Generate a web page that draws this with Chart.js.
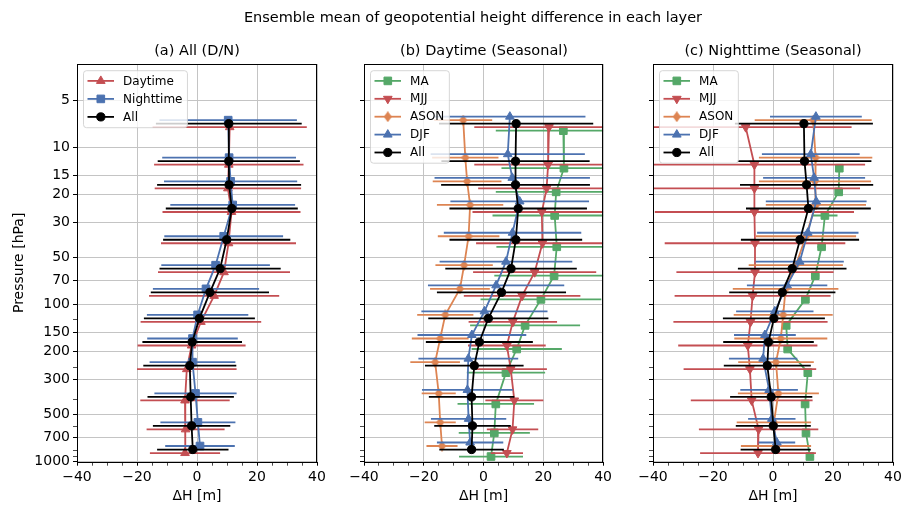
<!DOCTYPE html>
<html>
<head>
<meta charset="utf-8">
<script src="https://cdn.jsdelivr.net/npm/chart.js@4.4.0/dist/chart.umd.min.js"></script>
<style>
body { margin: 0; background: #fff; width: 906px; height: 509px; position: relative; overflow: hidden; font-family: "DejaVu Sans", sans-serif; }
.ttl { position: absolute; font-size: 14.5px; line-height: 17px; transform: translateX(-50%); white-space: nowrap; color: #000; }
.box { position: absolute; top: 0; height: 509px; }
</style>
</head>
<body>
<div class="box" style="left:0;width:330px"><canvas id="ca"></canvas></div>
<div class="box" style="left:330px;width:285px"><canvas id="cb"></canvas></div>
<div class="box" style="left:615px;width:291px"><canvas id="cc"></canvas></div>
<div class="ttl" style="left:473px;top:9px">Ensemble mean of geopotential height difference in each layer</div>
<div class="ttl" style="left:197px;top:42px">(a) All (D/N)</div>
<div class="ttl" style="left:484px;top:42px">(b) Daytime (Seasonal)</div>
<div class="ttl" style="left:773px;top:42px">(c) Nighttime (Seasonal)</div>
<script>
// layer mid pressures (hPa)
const levels = [7.07, 12.25, 17.32, 24.49, 38.73, 59.16, 83.67, 122.5, 173.2, 244.9, 387.3, 591.6, 836.7];

// (a) all, day / night
const aDay      = [10.9, 10.6, 10.3, 11.5, 10.5, 9.0, 5.7, 1.3, -1.8, -3.4, -4.0, -3.8, -4.0];
const aDayErr   = [25.7, 24.9, 24.4, 23.0, 22.5, 22.0, 21.7, 20.1, 18.0, 16.6, 14.9, 13.0, 11.7];
const aNight    = [10.4, 10.7, 11.2, 11.9, 8.9, 6.2, 3.0, 0.2, -1.5, -1.5, -0.5, 0.3, 1.0];
const aNightErr = [22.9, 22.3, 22.2, 20.8, 19.8, 18.1, 17.7, 16.9, 15.1, 14.3, 13.7, 12.5, 11.6];
const aAll      = [10.6, 10.6, 10.7, 11.6, 9.9, 7.7, 4.3, 0.8, -1.6, -2.4, -2.1, -1.8, -1.4];
const aAllErr   = [24.3, 23.7, 24.0, 22.0, 21.2, 20.2, 19.7, 18.5, 16.6, 15.5, 14.4, 12.9, 11.9];

// (b) daytime by season
const bMA      = [26.7, 26.9, 24.3, 23.8, 24.5, 23.6, 19.2, 13.9, 11.1, 7.5, 4.1, 3.6, 2.5];
const bMAErr   = [22.6, 20.9, 20.2, 20.8, 20.2, 20.0, 20.2, 18.4, 15.1, 13.1, 12.8, 11.9, 10.7];
const bMJJ     = [21.9, 21.6, 21.1, 19.5, 19.7, 17.1, 12.9, 9.8, 7.8, 9.1, 10.3, 9.7, 7.8];
const bMJJErr  = [25.0, 24.7, 22.9, 23.2, 22.2, 20.6, 19.5, 14.8, 13.0, 12.1, 9.7, 8.6, 5.4];
const bASON    = [-6.8, -6.1, -5.5, -4.5, -5.0, -6.5, -7.9, -12.8, -14.5, -16.2, -15.0, -14.5, -13.9];
const bASONErr = [9.7, 11.1, 11.5, 11.1, 10.3, 9.6, 10.0, 9.4, 9.5, 8.3, 5.7, 5.2, 5.2];
const bDJF     = [8.8, 8.1, 9.6, 12.1, 9.7, 7.5, 4.2, 0.3, -3.9, -5.1, -5.4, -5.0, -4.5];
const bDJFErr  = [25.3, 25.8, 26.0, 23.2, 23.0, 22.2, 22.8, 21.1, 18.2, 16.7, 15.2, 12.6, 11.1];
const bAll     = [10.9, 10.7, 10.7, 11.6, 10.8, 9.2, 6.0, 1.6, -1.4, -3.1, -4.0, -3.7, -4.0];
const bAllErr  = [25.8, 24.8, 24.9, 23.0, 22.2, 22.0, 21.6, 20.1, 17.9, 16.5, 14.3, 12.8, 10.8];

// (c) nighttime by season
const cMA      = [null, 22.1, 21.9, 17.3, 16.2, 14.1, 10.8, 4.4, 4.9, 11.6, 10.7, 11.0, 12.3];
const cMAErr   = [null, 1.0, 1.0, 4.2, 1.4, 1.3, 1.3, 1.0, 1.3, 1.2, 1.2, 1.2, 1.3];
const cMJJ     = [-9.1, -6.2, -6.2, -6.2, -6.0, -6.0, -6.8, -7.5, -8.4, -7.7, -7.1, -4.8, -5.0];
const cMJJErr  = [35.3, 36.9, 35.2, 33.2, 30.1, 26.2, 26.0, 25.7, 23.2, 22.1, 20.3, 19.9, 19.3];
const cASON    = [13.4, 14.2, 14.0, 14.3, 11.0, 7.6, 4.2, 3.4, 2.6, 1.0, 1.8, 0.3, 1.0];
const cASONErr = [19.5, 18.9, 18.7, 16.7, 16.7, 15.7, 17.6, 16.5, 15.5, 12.6, 13.5, 12.4, 11.7];
const cDJF     = [14.3, 12.6, 13.7, 14.4, 11.6, 8.9, 4.7, 0.6, -2.7, -3.3, -1.3, -0.4, 1.3];
const cDJFErr  = [15.3, 16.3, 17.0, 16.8, 16.9, 14.7, 13.4, 12.9, 10.3, 11.4, 9.6, 7.9, 6.1];
const cAll     = [10.3, 10.5, 11.2, 11.8, 9.0, 6.4, 3.1, 0.3, -1.5, -1.9, -0.6, 0.1, 0.9];
const cAllErr  = [23.0, 22.3, 22.2, 20.8, 19.7, 18.1, 17.7, 17.0, 15.1, 14.5, 13.7, 12.5, 11.7];

// axis ticks
const yMajor = [5, 10, 15, 20, 30, 50, 70, 100, 150, 200, 300, 500, 700, 1000];
const yMinor = [125, 250, 400, 600, 850, 925];
const xTicks = [-40, -35, -30, -25, -20, -15, -10, -5, 0, 5, 10, 15, 20, 25, 30, 35, 40];
const xMajor = [-40, -20, 0, 20, 40];

const FONT = '"DejaVu Sans", sans-serif';
const DODGE = 0.0223; // vertical offset between series (log10 units)
const LW = 1.8;
const C = { blue: '#4C72B0', orange: '#DD8452', green: '#55A868', red: '#C44E52', black: '#000000' };

// thin diamond marker
const thinDiamond = document.createElement('canvas');
thinDiamond.width = 8; thinDiamond.height = 11;
(function () {
    const g = thinDiamond.getContext('2d');
    g.fillStyle = C.orange;
    g.beginPath();
    g.moveTo(4, 0); g.lineTo(8, 5.5); g.lineTo(4, 11); g.lineTo(0, 5.5);
    g.closePath(); g.fill();
})();

const MARK = {
    circle: { pointStyle: 'circle', pointRadius: 4.1, pointRotation: 0 },
    square: { pointStyle: 'rect', pointRadius: 5.4, pointRotation: 0 },
    up:     { pointStyle: 'triangle', pointRadius: 5, pointRotation: 0 },
    down:   { pointStyle: 'triangle', pointRadius: 5, pointRotation: 180 },
    diam:   { pointStyle: thinDiamond, pointRadius: 4, pointRotation: 0 }
};

function serie(label, color, mark, mean, err, shift) {
    const pts = [];
    levels.forEach((p, i) => {
        if (mean[i] === null) return;
        pts.push({ x: mean[i], y: p * Math.pow(10, shift * DODGE), e: err[i] });
    });
    return Object.assign({
        label: label,
        data: pts,
        showLine: true,
        borderColor: color,
        backgroundColor: color,
        pointBackgroundColor: color,
        pointBorderColor: color,
        pointBorderWidth: 1,
        borderWidth: LW,
        tension: 0,
        mark: mark
    }, MARK[mark]);
}

// horizontal error bars, drawn just before each dataset
const errorBars = {
    id: 'errorBars',
    beforeDatasetDraw(chart, args) {
        const ds = chart.data.datasets[args.index];
        const xs = chart.scales.x, ys = chart.scales.y, a = chart.chartArea;
        const ctx = chart.ctx;
        ctx.save();
        ctx.beginPath();
        ctx.rect(a.left, a.top, a.right - a.left, a.bottom - a.top);
        ctx.clip();
        ctx.strokeStyle = ds.borderColor;
        ctx.lineWidth = LW;
        ds.data.forEach(d => {
            const y = ys.getPixelForValue(d.y);
            ctx.beginPath();
            ctx.moveTo(xs.getPixelForValue(d.x - d.e), y);
            ctx.lineTo(xs.getPixelForValue(d.x + d.e), y);
            ctx.stroke();
        });
        ctx.restore();
    }
};

const frame = {
    id: 'frame',
    afterDatasetsDraw(chart) {
        const a = chart.chartArea, ctx = chart.ctx;
        ctx.save();
        ctx.strokeStyle = '#000';
        ctx.lineWidth = 1;
        ctx.strokeRect(Math.round(a.left) + 0.5, Math.round(a.top) + 0.5,
            Math.round(a.right - a.left) - 1, Math.round(a.bottom - a.top));
        ctx.restore();
    }
};

function drawMarker(ctx, ds, x, y) {
    const r = ds.pointRadius;
    ctx.save();
    ctx.fillStyle = ds.pointBackgroundColor;
    ctx.strokeStyle = ds.pointBorderColor;
    ctx.lineWidth = 1;
    if (ds.mark === 'diam') {
        ctx.drawImage(thinDiamond, x - thinDiamond.width / 2, y - thinDiamond.height / 2);
        ctx.restore();
        return;
    }
    ctx.beginPath();
    if (ds.mark === 'circle') {
        ctx.arc(x, y, r, 0, Math.PI * 2);
    } else if (ds.mark === 'square') {
        const s = r * Math.SQRT1_2;
        ctx.rect(x - s, y - s, 2 * s, 2 * s);
    } else {
        let rad = ds.pointRotation * Math.PI / 180;
        for (let k = 0; k < 3; k++) {
            const px = x + Math.sin(rad) * r, py = y - Math.cos(rad) * r;
            if (k === 0) ctx.moveTo(px, py); else ctx.lineTo(px, py);
            rad += Math.PI * 2 / 3;
        }
    }
    ctx.closePath();
    ctx.fill();
    ctx.stroke();
    ctx.restore();
}

// legend box in the upper left corner of the axes
const boxLegend = {
    id: 'boxLegend',
    afterDraw(chart, args, opt) {
        const ctx = chart.ctx, a = chart.chartArea;
        const sets = chart.data.datasets;
        ctx.save();
        ctx.font = '12px ' + FONT;
        const tw = Math.max(...sets.map(d => ctx.measureText(d.label).width));
        const row = opt.row || 18;
        const x0 = a.left + 6.5, y0 = a.top + 6.7;
        const w = 39.6 + tw + 5, h = sets.length * row + 3;
        ctx.beginPath();
        ctx.roundRect(x0, y0, w, h, 3);
        ctx.fillStyle = 'rgba(255,255,255,0.8)';
        ctx.fill();
        ctx.strokeStyle = 'rgba(204,204,204,0.8)';
        ctx.lineWidth = 1;
        ctx.stroke();
        sets.forEach((ds, i) => {
            const y = y0 + 10.2 + i * row;
            ctx.strokeStyle = ds.borderColor;
            ctx.lineWidth = LW;
            ctx.beginPath();
            ctx.moveTo(x0 + 4, y);
            ctx.lineTo(x0 + 30.5, y);
            ctx.stroke();
            drawMarker(ctx, ds, x0 + 17.3, y);
            ctx.fillStyle = '#000';
            ctx.textBaseline = 'middle';
            ctx.textAlign = 'left';
            ctx.fillText(ds.label, x0 + 39.6, y + 0.5);
        });
        ctx.restore();
    }
};

function makeChart(id, sets, yw, padRight, showY, legendRow) {
    sets.forEach((d, i) => { d.order = sets.length - 1 - i; });
    return new Chart(document.getElementById(id), {
        type: 'scatter',
        data: { datasets: sets },
        plugins: [errorBars, frame, boxLegend],
        options: {
            responsive: true,
            maintainAspectRatio: false,
            animation: false,
            events: [],
            layout: { padding: { left: 0, right: padRight, top: 64, bottom: 0 } },
            plugins: {
                legend: { display: false },
                tooltip: { enabled: false },
                boxLegend: { row: legendRow }
            },
            scales: {
                x: {
                    type: 'linear',
                    min: -40, max: 40,
                    afterBuildTicks: s => { s.ticks = xTicks.map(v => ({ value: v })); },
                    afterFit: s => { s.height = 47.3; },
                    border: { display: false },
                    grid: {
                        color: c => (c.tick && xMajor.includes(c.tick.value)) ? '#c4c4c4' : 'rgba(0,0,0,0)',
                        lineWidth: 1,
                        tickColor: '#000',
                        tickLength: 4,
                        tickWidth: c => (c.tick && xMajor.includes(c.tick.value)) ? 1 : 0.7
                    },
                    ticks: {
                        autoSkip: false,
                        maxRotation: 0,
                        padding: 3,
                        color: '#000',
                        font: { family: FONT, size: 14 },
                        callback: v => xMajor.includes(v) ? (v < 0 ? '\u2212' + Math.abs(v) : String(v)) : ''
                    },
                    title: {
                        display: true, text: '\u0394H [m]', color: '#000',
                        font: { family: FONT, size: 14 },
                        padding: { top: 0, bottom: 4 }
                    }
                },
                y: {
                    type: 'logarithmic',
                    reverse: true,
                    min: 2.95, max: 1000,
                    afterBuildTicks: s => { s.ticks = yMajor.concat(yMinor).map(v => ({ value: v })); },
                    afterFit: s => { s.width = yw; },
                    border: { display: false },
                    grid: {
                        color: c => (c.tick && yMajor.includes(c.tick.value)) ? '#c4c4c4' : 'rgba(0,0,0,0)',
                        lineWidth: 1,
                        tickColor: '#000',
                        tickLength: 4,
                        tickWidth: c => (c.tick && yMajor.includes(c.tick.value)) ? 1 : 0.7
                    },
                    ticks: {
                        autoSkip: false,
                        padding: 3,
                        color: '#000',
                        font: { family: FONT, size: 14 },
                        callback: v => (showY && yMajor.includes(v)) ? String(v) : ''
                    },
                    title: {
                        display: showY, text: 'Pressure [hPa]', color: '#000',
                        font: { family: FONT, size: 14 },
                        padding: { top: 11, bottom: 0 }
                    }
                }
            }
        }
    });
}

makeChart('ca', [
    serie('Daytime', C.red, 'up', aDay, aDayErr, 1),
    serie('Nighttime', C.blue, 'square', aNight, aNightErr, -1),
    serie('All', C.black, 'circle', aAll, aAllErr, 0)
], 77, 13, true, 18);

makeChart('cb', [
    serie('MA', C.green, 'square', bMA, bMAErr, 2),
    serie('MJJ', C.red, 'down', bMJJ, bMJJErr, 1),
    serie('ASON', C.orange, 'diam', bASON, bASONErr, -1),
    serie('DJF', C.blue, 'up', bDJF, bDJFErr, -2),
    serie('All', C.black, 'circle', bAll, bAllErr, 0)
], 34, 11, false, 17.9);

makeChart('cc', [
    serie('MA', C.green, 'square', cMA, cMAErr, 2),
    serie('MJJ', C.red, 'down', cMJJ, cMJJErr, 1),
    serie('ASON', C.orange, 'diam', cASON, cASONErr, -1),
    serie('DJF', C.blue, 'up', cDJF, cDJFErr, -2),
    serie('All', C.black, 'circle', cAll, cAllErr, 0)
], 38, 13, false, 17.9);
</script>
</body>
</html>
